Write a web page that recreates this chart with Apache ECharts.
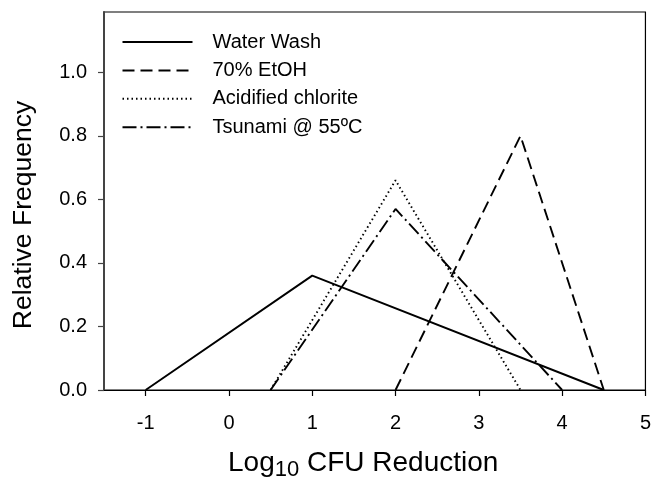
<!DOCTYPE html>
<html>
<head>
<meta charset="utf-8">
<script src="https://cdn.jsdelivr.net/npm/echarts@6/dist/echarts.min.js"></script>
<style>
html,body{margin:0;padding:0;background:#fff;}
#chart{width:654px;height:480px;}
</style>
</head>
<body>
<div id="chart"></div>
<script>
//series names
var seriesNames = ['Water Wash', '70% EtOH', 'Acidified chlorite', 'Tsunami @ 55\u00baC'];
//vertices of each frequency polygon (log10 reduction, relative frequency)
var waterX = [-1, 1, 4.5];
var waterY = [0, 0.36, 0];
var etohX = [2, 3.5, 4.5];
var etohY = [0, 0.8, 0];
var chloriteX = [0.5, 2, 3.5];
var chloriteY = [0, 0.66, 0];
var tsunamiX = [0.5, 2, 4];
var tsunamiY = [0, 0.57, 0];
//tick labels
var xTicks = [-1, 0, 1, 2, 3, 4, 5];
var yTicks = [0, 0.2, 0.4, 0.6, 0.8, 1.0];

function pairs(xs, ys){
	var out = [];
	for(var i=0;i<xs.length;i++){ out.push([xs[i], ys[i]]); }
	return out;
}
var dashes = ['solid', [12,6], [1.5,3], [14,4,2,4]];
var allData = [pairs(waterX,waterY), pairs(etohX,etohY), pairs(chloriteX,chloriteY), pairs(tsunamiX,tsunamiY)];

var font = '"Liberation Sans", Arial, sans-serif';
var series = [];
for(var k=0;k<seriesNames.length;k++){
	series.push({
		name: seriesNames[k],
		type: 'line',
		data: allData[k],
		symbol: 'none',
		silent: true,
		itemStyle: {color:'rgba(0,0,0,0)'},
		lineStyle: {color:'#000', width:1.9, type:dashes[k]}
	});
}

var chart = echarts.init(document.getElementById('chart'));
chart.setOption({
	animation: false,
	grid: {left:104, top:12, right:8.5, bottom:90, show:true, borderColor:'#000', borderWidth:1.2},
	legend: {
		orient:'vertical', left:121.5, top:32, padding:0,
		itemWidth:70, itemHeight:20, itemGap:8.4,
		itemStyle:{opacity:0},
		textStyle:{fontFamily:font, fontSize:20, color:'#000', lineHeight:20, padding:[0,0,0,15]},
		data: seriesNames
	},
	xAxis: {
		type:'value', min:-1.5, max:5,
		splitLine:{show:false},
		axisLine:{onZero:false, lineStyle:{color:'#000', width:1.2}},
		axisTick:{show:true, length:6, customValues:xTicks, lineStyle:{color:'#000', width:1.2}},
		axisLabel:{customValues:xTicks, margin:23, fontFamily:font, fontSize:20, color:'#000'}
	},
	yAxis: {
		type:'value', min:0, max:1.19,
		splitLine:{show:false},
		axisLine:{show:true, onZero:false, lineStyle:{color:'#444', width:2}},
		axisTick:{show:true, length:6, customValues:yTicks, lineStyle:{color:'#444', width:1.2}},
		axisLabel:{customValues:yTicks, margin:17, fontFamily:font, fontSize:20, color:'#000',
			formatter:function(v){ return v.toFixed(1); }}
	},
	graphic: [
		{type:'text', left:228, top:449, style:{
			text:'{a|Log}{b|10}{a| CFU Reduction}',
			rich:{
				a:{fontFamily:font, fontSize:28, fill:'#000', lineHeight:32, verticalAlign:'bottom'},
				b:{fontFamily:font, fontSize:22, fill:'#000', lineHeight:32, verticalAlign:'bottom', padding:[0,0,-4,0]}
			}
		}},
		{type:'text', x:24, y:215, rotation:Math.PI/2, style:{
			text:'Relative Frequency', fontFamily:font, fontSize:26.5, fill:'#000',
			align:'center', verticalAlign:'middle'
		}}
	],
	series: series
});
</script>
</body>
</html>
